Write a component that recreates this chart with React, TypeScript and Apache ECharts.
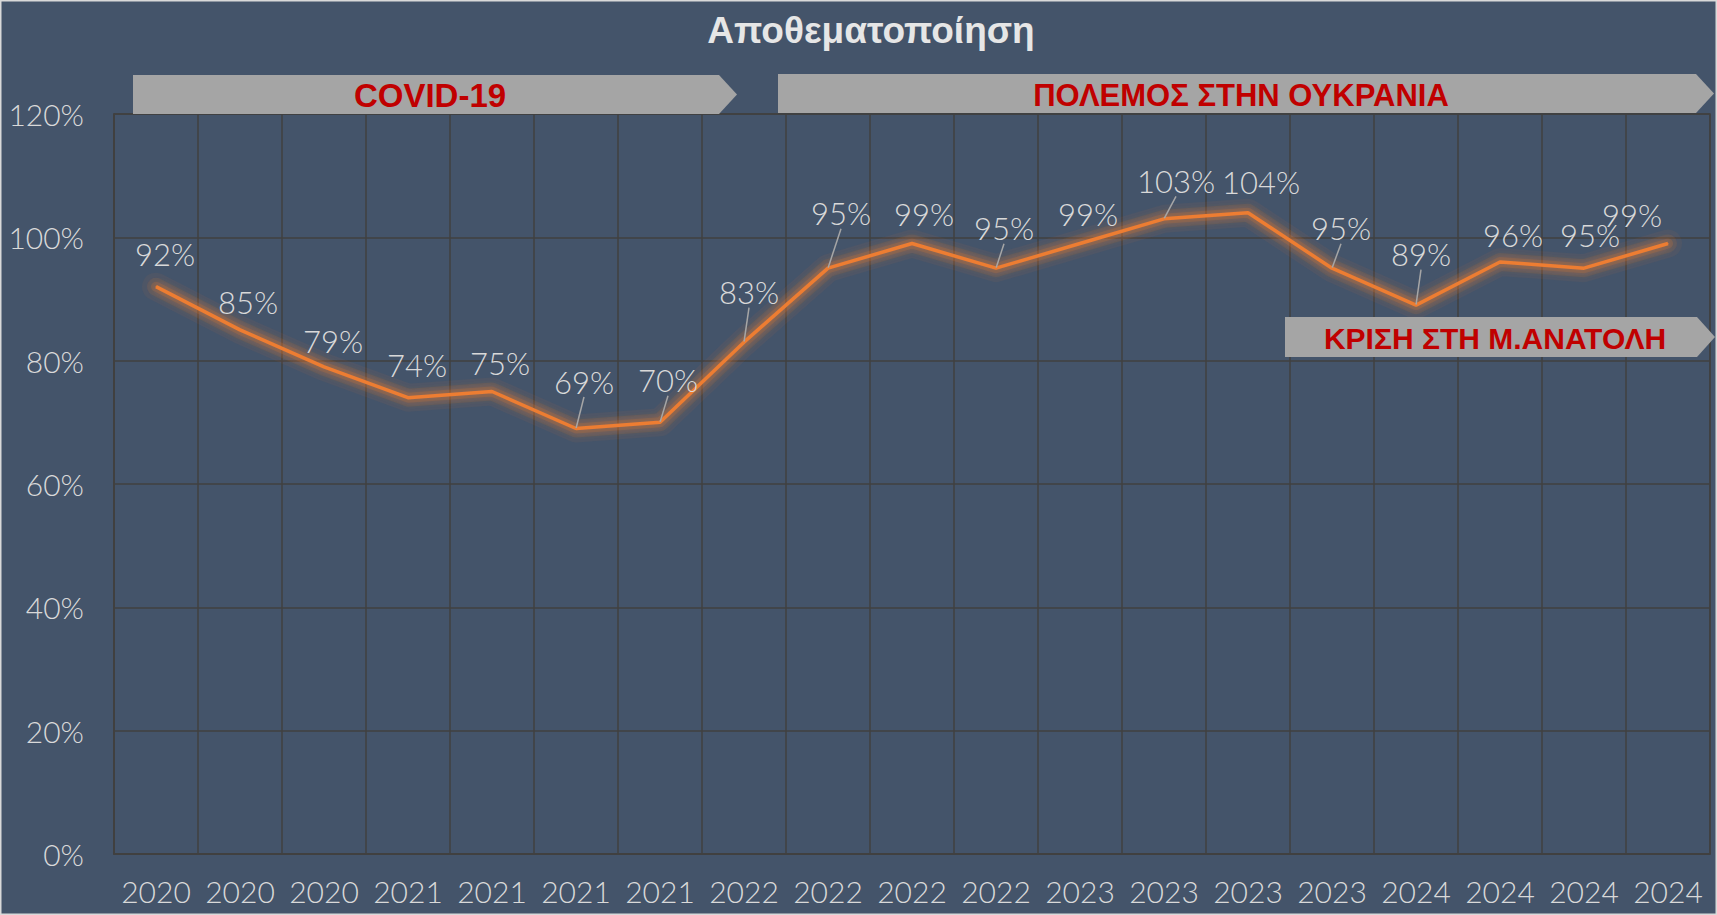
import React, { useEffect, useRef } from "react";
import * as echarts from "echarts";

const categories = [
  "2020", "2020", "2020",
  "2021", "2021", "2021", "2021",
  "2022", "2022", "2022", "2022",
  "2023", "2023", "2023", "2023",
  "2024", "2024", "2024", "2024",
];
const stockValues = [92, 85, 79, 74, 75, 69, 70, 83, 95, 99, 95, 99, 103, 104, 95, 89, 96, 95, 99];
const yMin = 0;
const yMax = 120;
const yInterval = 20;
const titleText = "Αποθεματοποίηση";
const bannerTexts = ["COVID-19", "ΠΟΛΕΜΟΣ ΣΤΗΝ ΟΥΚΡΑΝΙΑ", "ΚΡΙΣΗ ΣΤΗ Μ.ΑΝΑΤΟΛΗ"];

// label placement (style), one per point
const labelOffsets = [
  [9, -33], [8, -28], [9, -26], [9, -33], [8, -29], [8, -47], [8, -42], [5, -50],
  [13, -55], [12, -30], [8, -40], [8, -30], [12, -38], [13, -31], [9, -40], [5, -51],
  [13, -27], [6, -33], [-36, -29],
];
const leaderLineIdx = [5, 6, 7, 8, 10, 12, 14, 15];
// glow layers (width, alpha) drawn under the main line
const glowLayers = [
  [28, 0.06],
  [18, 0.1],
  [10, 0.16],
];

const LIGHT = "#d9d9d9";
const GRID = "#404040";
const BG = "#44546A";
const ORANGE = "#ED7D31";
const BANNER = "#a5a5a5";
const RED = "#c00000";
const FONT = "Lato, 'Noto Sans', sans-serif";
const BOLD_FONT = "'Liberation Sans', Arial, sans-serif";

export default function App() {
  const ref = useRef<HTMLDivElement>(null);

  useEffect(() => {
    document.body.style.margin = "0";
    document.body.style.overflow = "hidden";
    if (!ref.current) return;
    const chart = echarts.init(ref.current, undefined, { renderer: "svg" });

    const banner = (x0: number, x1: number, tip: number, top: number, bottom: number) => ({
      type: "polygon",
      z: 100,
      shape: {
        points: [
          [x0, top],
          [x1, top],
          [tip, (top + bottom) / 2],
          [x1, bottom],
          [x0, bottom],
        ],
      },
      style: { fill: BANNER },
    });
    const bannerText = (text: string, x: number, y: number, size: number) => ({
      type: "text",
      z: 101,
      x,
      y,
      style: {
        text,
        fill: RED,
        font: `bold ${size}px ${BOLD_FONT}`,
        textAlign: "center",
        textVerticalAlign: "middle",
      },
    });

    const glowSeries = glowLayers.map(([w, a]) => ({
      type: "line",
      data: stockValues,
      showSymbol: false,
      silent: true,
      z: 1,
      lineStyle: {
        color: `rgba(237,125,49,${a})`,
        width: w,
        cap: "round",
        join: "round",
      },
      label: { show: false },
    }));

    chart.setOption({
      animation: false,
      backgroundColor: BG,
      grid: {
        left: 114,
        right: 7,
        top: 114,
        bottom: 61,
        show: true,
        borderColor: GRID,
        borderWidth: 1.5,
        backgroundColor: "transparent",
      },
      xAxis: {
        type: "category",
        data: categories,
        boundaryGap: true,
        axisTick: { show: false },
        axisLine: { show: true, lineStyle: { color: GRID, width: 1.5 } },
        axisLabel: {
          interval: 0,
          color: LIGHT,
          fontSize: 30,
          fontFamily: FONT,
          fontWeight: 300,
          margin: 22,
        },
        splitLine: { show: true, interval: 0, lineStyle: { color: GRID, width: 1.5 } },
      },
      yAxis: {
        type: "value",
        min: yMin,
        max: yMax,
        interval: yInterval,
        axisLine: { show: true, lineStyle: { color: GRID, width: 1.5 } },
        axisTick: { show: false },
        axisLabel: {
          color: LIGHT,
          fontSize: 30,
          fontFamily: FONT,
          fontWeight: 300,
          margin: 30,
          formatter: "{value}%",
        },
        splitLine: { show: true, lineStyle: { color: GRID, width: 1.5 } },
      },
      series: [
        ...glowSeries,
        {
          type: "line",
          z: 3,
          data: stockValues.map((v, i) => ({
            value: v,
            labelLine: { show: leaderLineIdx.includes(i) },
          })),
          showSymbol: true,
          symbol: "circle",
          symbolSize: 1,
          itemStyle: { color: ORANGE },
          lineStyle: {
            color: ORANGE,
            width: 3.5,
            shadowBlur: 10,
            shadowColor: "rgba(237,125,49,0.8)",
          },
          label: {
            show: true,
            position: "inside",
            formatter: "{c}%",
            color: LIGHT,
            fontSize: 31,
            fontFamily: FONT,
            fontWeight: 300,
            textBorderWidth: 0,
          },
          labelLine: {
            show: false,
            lineStyle: { color: "#a6a6a6", width: 1.5 },
          },
          labelLayout: (p: any) => ({
            dx: labelOffsets[p.dataIndex][0],
            dy: labelOffsets[p.dataIndex][1],
          }),
        },
      ],
      graphic: [
        {
          type: "text",
          z: 101,
          x: 871,
          y: 30,
          style: {
            text: titleText,
            fill: "#e6e6e6",
            font: `bold 37px ${BOLD_FONT}`,
            textAlign: "center",
            textVerticalAlign: "middle",
          },
        },
        banner(133, 719, 737, 75, 114),
        bannerText(bannerTexts[0], 430, 95, 33),
        banner(778, 1696, 1714, 74, 113),
        bannerText(bannerTexts[1], 1241, 95, 31),
        banner(1285, 1697, 1715, 317, 357),
        bannerText(bannerTexts[2], 1495, 338, 30),
        {
          type: "rect",
          z: 120,
          shape: { x: 0.75, y: 0.75, width: 1715.5, height: 913.5 },
          style: { fill: "none", stroke: "#d9d9d9", lineWidth: 1.5 },
        },
      ],
    });

    return () => chart.dispose();
  }, []);

  return <div ref={ref} style={{ width: 1717, height: 915 }} />;
}
